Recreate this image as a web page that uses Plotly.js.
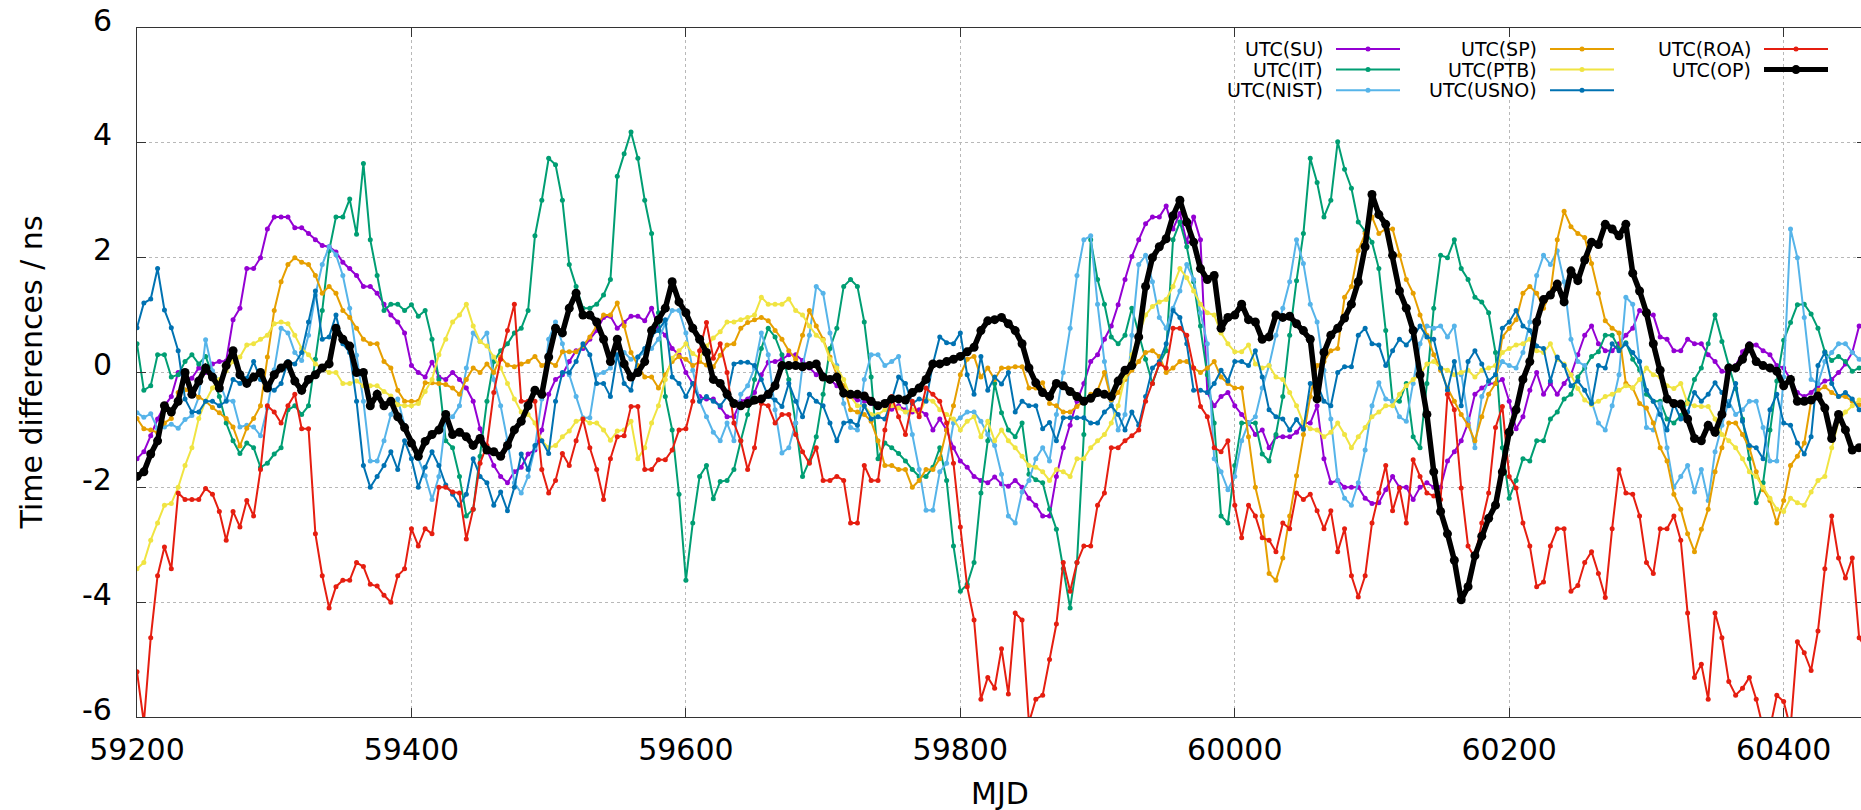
<!DOCTYPE html>
<html><head><meta charset="utf-8">
<script src="https://cdn.plot.ly/plotly-3.0.1.min.js"></script>
<style>html,body{margin:0;padding:0;overflow:hidden;background:#fff}#chart{width:1866px;height:810px}</style>
</head><body><div id="chart"></div>
<script>
const MJD_START = 59200, MJD_STEP = 5;
const X_TICKS = [59200, 59400, 59600, 59800, 60000, 60200, 60400];
const Y_TICKS = [-6, -4, -2, 0, 2, 4, 6];
const Y_TICK_TEXT = ['-6', '-4', '-2', '0', '2', '4', '6'];

const SU = [-1.5,-1.38,-1.1,-0.81,-0.58,-0.42,0.0,-0.1,-0.1,0.08,0.0,0.15,0.19,0.2,0.92,1.12,1.81,1.81,2.0,2.5,2.71,2.71,2.71,2.52,2.52,2.42,2.31,2.21,2.19,2.1,1.92,1.81,1.69,1.5,1.5,1.38,1.19,1.0,0.88,0.69,0.12,0.0,-0.08,
0.18,-0.08,-0.12,0.0,-0.12,-0.27,-0.5,-0.98,-1.35,-1.62,-1.81,-1.92,-1.73,-1.65,-1.42,-1.35,-1.0,-0.38,-0.12,-0.04,0.19,0.38,0.42,0.58,0.73,0.96,0.98,0.77,0.87,0.98,0.98,0.9,1.12,0.77,0.65,0.42,0.31,0.0,-0.19,-0.42,-0.46,-0.46,-0.6,
-0.77,-0.77,-0.5,-0.46,-0.35,-0.04,0.18,0.19,0.23,0.31,0.31,0.21,0.08,-0.04,-0.04,-0.12,-0.23,-0.31,-0.42,-0.48,-0.5,-0.54,-0.58,-0.58,-0.64,-0.58,-0.65,-0.69,-0.65,-0.73,-1.0,-0.81,-1.0,-1.31,-1.54,-1.65,-1.81,-1.88,-1.92,-1.82,-1.94,-1.98,
-1.88,-2.0,-2.19,-2.31,-2.5,-2.5,-1.81,-1.31,-0.92,-0.5,-0.19,0.19,0.31,0.58,0.81,1.18,1.62,2.02,2.31,2.59,2.71,2.71,2.9,2.5,2.77,2.27,2.71,2.31,-0.35,-0.58,-0.42,-0.35,-0.58,-0.73,-0.88,-1.08,-1.0,-1.31,-1.12,-1.12,-1.12,-1.04,
-0.88,-0.88,-0.58,-1.5,-1.92,-1.88,-2.0,-2.0,-2.0,-2.19,-2.28,-2.27,-2.04,-1.81,-2.0,-2.0,-2.21,-2.0,-1.92,-2.0,-2.0,-1.54,-1.38,-1.19,-0.88,-0.38,-0.27,-0.19,-0.19,-0.12,-0.5,-0.98,-0.77,-0.31,0.0,-0.38,-0.19,-0.38,-0.19,-0.04,0.31,0.65,
0.81,0.5,0.38,0.38,0.5,0.65,0.77,1.08,1.0,1.0,0.62,0.58,0.38,0.38,0.58,0.5,0.5,0.31,0.19,0.02,0.0,0.12,0.36,0.5,0.48,0.38,0.31,0.12,0.08,-0.12,-0.35,-0.42,-0.35,-0.23,-0.15,-0.12,0.0,0.15,0.35,0.81];

const IT = [0.5,-0.31,-0.23,0.31,0.31,-0.08,-0.04,0.19,0.31,0.15,0.28,-0.04,-0.42,-0.88,-1.19,-1.41,-1.23,-1.31,-1.65,-1.58,-1.42,-1.31,-0.65,-0.58,-0.73,-0.58,0.23,1.08,2.12,2.71,2.71,3.02,2.41,3.64,2.31,1.69,1.08,1.19,1.19,1.08,1.18,0.98,1.08,
0.58,-0.12,-1.19,-1.31,-1.81,-2.5,-2.38,-1.46,-0.5,0.19,0.38,0.5,0.69,0.77,1.08,2.38,3.0,3.73,3.62,3.0,1.88,1.5,1.12,1.12,1.19,1.35,1.62,3.42,3.81,4.19,3.73,3.0,2.42,1.04,-0.42,-1.0,-2.12,-3.62,-2.62,-1.81,-1.62,-2.2,-1.9,
-1.88,-1.69,-1.19,-0.73,-0.12,0.42,0.77,0.62,0.31,-0.12,-0.88,-1.81,-1.54,-1.12,-0.38,0.42,0.77,1.5,1.62,1.5,0.88,-0.08,-1.5,-1.23,-1.31,-1.41,-1.54,-1.69,-1.81,-1.81,-1.65,-1.31,-1.88,-3.02,-3.81,-3.69,-3.31,-2.1,-1.19,-0.19,-0.7,-1.0,
-1.12,-0.88,-1.77,-1.87,-1.92,-2.38,-2.73,-3.42,-4.1,-3.31,-1.08,2.31,1.62,1.19,0.62,0.5,0.65,1.12,0.65,0.23,-0.19,0.15,0.38,2.31,2.62,2.19,1.58,0.81,-0.04,-0.88,-2.5,-2.62,-1.62,-0.88,-0.88,-0.88,-1.42,-1.54,-1.08,-0.42,0.65,1.6,
2.42,3.73,3.31,2.71,3.0,4.02,3.54,3.21,2.62,2.46,2.27,1.81,0.73,-0.5,-0.5,-0.19,-1.12,-1.31,-0.19,1.12,2.04,2.0,2.31,1.81,1.62,1.31,1.23,1.04,0.35,-1.31,-2.19,-1.88,-1.5,-1.54,-1.19,-1.19,-0.81,-0.69,-0.46,-0.38,-0.08,0.08,
0.28,0.36,0.65,0.65,0.42,0.52,0.23,0.05,-0.38,-0.5,-0.5,-0.81,-0.88,-0.75,-0.5,-0.12,0.08,0.5,1.0,0.54,0.12,-0.28,-0.81,-1.5,-2.27,-1.92,-1.0,-0.15,0.56,0.87,1.18,1.19,1.02,0.77,0.36,0.21,0.28,0.19,0.02,0.08];

const NIST = [-0.7,-0.78,-0.72,-0.98,-0.95,-0.9,-0.97,-0.82,-0.75,-0.43,0.57,0.03,-0.16,-0.48,-0.5,-0.95,-0.92,-0.95,-1.1,-0.62,0.05,0.77,0.69,0.35,0.21,0.65,1.35,1.88,2.19,2.05,1.69,1.12,0.3,-0.5,-1.54,-1.54,-1.19,-0.73,-0.46,-0.92,-1.2,-1.5,-1.8,
-2.21,-1.81,-0.81,-0.77,-0.58,0.08,0.69,0.54,0.69,-0.12,-0.58,-1.19,-1.92,-2.1,-1.81,-1.31,-0.46,0.58,0.88,0.5,-0.04,-0.42,-0.79,-0.79,-0.04,0.0,0.08,0.31,0.35,0.23,0.27,0.35,0.42,0.58,0.85,1.08,1.08,0.69,0.04,-0.5,-0.77,-1.04,-1.19,
-0.88,-1.19,-0.38,-0.23,0.08,0.69,0.31,-0.65,-1.4,-1.31,-0.88,0.12,0.65,1.5,1.38,0.69,0.12,-0.54,-0.96,-1.0,-0.12,0.31,0.31,0.12,0.19,0.28,-0.48,-1.08,-1.69,-2.4,-2.4,-1.73,-1.58,-0.88,-0.79,-0.69,-0.69,-0.85,-1.08,-1.27,-1.77,-2.5,
-2.62,-2.08,-1.88,-1.5,-1.31,-1.54,-0.73,0.0,0.77,1.69,2.31,2.38,1.19,0.19,-0.5,-1.0,-0.73,0.65,1.88,2.04,1.58,0.96,0.77,1.12,1.42,1.88,1.62,1.04,0.5,-1.5,-1.73,-2.04,-1.81,-1.19,-0.88,-0.77,-0.27,0.12,0.65,1.12,1.58,2.31,
1.9,1.19,0.88,0.04,-0.81,-1.88,-2.19,-2.31,-1.92,-1.35,-0.58,-0.18,-0.46,-0.5,-0.77,-0.85,-0.19,0.5,0.81,0.77,0.81,0.62,0.81,-0.04,-0.81,-1.31,-0.42,-0.15,-0.04,0.19,0.12,0.08,0.35,0.88,1.69,2.04,1.88,2.12,1.58,0.58,0.19,0.12,
-0.5,-0.88,-1.0,-0.58,-0.04,1.31,1.19,0.19,-0.96,-1.0,-0.54,-1.31,-2.0,-1.81,-1.62,-2.08,-1.69,-2.23,-1.38,-0.92,-0.5,-0.73,-0.65,-0.5,-0.5,-0.96,-1.54,-1.54,-0.08,2.5,2.0,0.96,-0.12,-0.19,0.19,0.35,0.5,0.5,0.35,0.23,0.19];

const SP = [-0.8,-0.98,-1.0,-1.05,-0.88,-0.8,-0.35,-0.3,-0.35,-0.43,-0.5,-0.61,-0.7,-0.8,-0.95,-1.28,-0.97,-0.8,-0.58,0.27,1.08,1.58,1.88,2.0,1.92,1.88,1.69,1.38,1.5,1.38,1.08,0.96,0.77,0.58,0.5,0.5,0.19,0.08,-0.31,-0.5,-0.5,-0.5,-0.18,
-0.18,-0.19,-0.21,-0.27,-0.38,-0.12,0.08,0.0,0.15,0.0,0.27,0.13,0.1,0.15,0.19,0.28,0.12,0.19,0.12,0.36,0.36,0.36,0.46,0.62,0.81,1.0,1.0,1.21,0.81,0.35,0.12,-0.08,-0.08,-0.27,-0.04,0.19,0.28,0.23,0.12,0.19,0.13,0.1,0.3,
0.48,0.5,0.77,0.87,0.92,0.96,0.9,0.73,0.58,0.38,0.23,0.65,1.08,0.81,0.58,0.27,-0.04,-0.23,-0.65,-0.69,-0.73,-0.85,-1.19,-1.62,-1.62,-1.69,-1.69,-2.0,-1.88,-1.69,-1.69,-1.5,-1.0,-0.58,-0.04,0.23,0.28,-0.08,0.08,-0.12,0.08,0.08,
0.1,0.1,-0.27,-0.27,-0.18,-0.54,-0.58,-0.69,-0.69,-0.59,-0.5,-0.38,-0.31,0.0,-0.48,-0.35,-0.12,0.04,0.19,0.35,0.38,0.28,0.0,0.08,0.19,0.19,0.08,0.0,0.08,0.19,-0.08,-0.19,-0.27,-0.27,-1.12,-2.0,-2.5,-3.5,-3.62,-3.23,-2.5,-1.8,-1.08,
-0.42,0.12,0.19,0.38,0.42,1.31,1.5,2.12,2.42,2.71,2.42,2.5,2.5,2.04,1.62,1.38,1.0,0.65,0.31,0.04,-0.27,-0.5,-0.73,-0.92,-1.19,-0.77,-0.38,-0.19,0.62,0.77,0.92,1.38,1.5,1.38,1.12,1.38,2.31,2.81,2.54,2.42,2.35,1.9,
1.38,0.9,0.77,0.69,-0.19,-0.27,-0.54,-0.62,-0.88,-1.31,-1.54,-2.12,-2.38,-2.81,-3.12,-2.73,-2.38,-1.73,-1.31,-0.88,-0.88,-1.08,-1.31,-1.73,-2.04,-2.23,-2.62,-2.23,-1.62,-1.46,-1.23,-0.5,-0.31,-0.25,-0.35,-0.42,-0.42,-0.5,-0.56,-0.58];

const PTB = [-3.42,-3.31,-2.92,-2.62,-2.31,-2.28,-2.0,-1.62,-1.31,-0.8,-0.5,-0.27,-0.12,0.03,0.19,0.27,0.48,0.5,0.58,0.65,0.85,0.88,0.85,0.65,0.42,0.31,0.15,0.08,0.0,0.0,-0.19,-0.19,-0.15,-0.23,-0.23,-0.23,-0.33,-0.41,-0.56,-0.58,-0.58,-0.54,-0.33,
-0.12,0.31,0.58,0.88,1.0,1.19,0.81,0.54,0.46,0.27,0.08,-0.19,-0.46,-0.69,-0.73,-0.88,-1.19,-1.31,-1.27,-1.12,-1.02,-0.85,-0.81,-0.88,-0.88,-1.0,-1.18,-1.02,-1.0,-0.85,-1.5,-1.31,-0.88,-0.58,-0.12,0.25,0.38,0.5,0.33,0.25,0.46,0.6,0.71,
0.88,0.88,0.92,0.96,1.0,1.31,1.19,1.19,1.19,1.28,1.08,1.0,0.81,0.65,0.56,0.23,0.08,-0.12,-0.42,-0.58,-0.58,-0.73,-0.73,-0.65,-0.58,-0.62,-0.69,-0.65,-0.73,-0.46,-0.5,-0.65,-0.73,-0.81,-1.0,-0.85,-0.77,-1.12,-0.85,-1.19,-1.0,-1.19,
-1.31,-1.46,-1.62,-1.65,-1.73,-1.88,-1.69,-1.73,-1.81,-1.5,-1.5,-1.31,-1.19,-1.08,-0.88,-0.58,-0.08,0.31,0.65,1.0,1.15,1.23,1.27,1.5,1.81,1.65,1.42,1.19,1.04,1.0,0.69,0.5,0.36,0.36,0.48,0.15,0.08,0.12,-0.08,-0.12,-0.35,-0.58,-0.88,
-0.98,-1.0,-1.12,-1.04,-0.88,-1.08,-1.31,-1.12,-0.96,-0.77,-0.69,-0.58,-0.58,-0.38,-0.23,-0.12,-0.04,0.15,0.19,0.08,0.04,-0.04,0.0,0.04,-0.08,0.04,0.08,0.12,0.35,0.42,0.48,0.5,0.58,0.38,0.35,0.5,0.23,0.15,-0.04,-0.28,-0.48,-0.56,
-0.5,-0.42,-0.38,-0.31,-0.23,-0.27,-0.12,0.08,-0.04,-0.08,-0.23,-0.28,-0.19,-0.54,-0.58,-0.59,-0.59,-0.81,-1.08,-1.19,-1.31,-1.5,-1.73,-1.81,-2.0,-2.19,-2.38,-2.42,-2.19,-2.27,-2.31,-2.08,-1.88,-1.81,-1.31,-0.85,-0.69,-0.58,-0.48,-0.42];

const USNO = [0.78,1.21,1.28,1.81,1.09,0.78,0.38,-0.46,-0.69,-0.69,-0.5,-0.5,-0.58,-0.5,-0.12,-0.19,-0.1,0.19,-0.12,-0.27,-0.31,-0.19,0.19,0.15,0.35,0.88,1.42,0.58,0.62,1.0,0.5,0.35,-0.5,-1.62,-2.0,-1.81,-1.62,-1.38,-1.69,-1.19,-1.5,-2.0,-1.65,
-1.38,-1.62,-1.96,-2.12,-2.31,-2.12,-1.5,-1.81,-1.92,-2.31,-2.08,-2.41,-2.0,-1.42,-1.69,-1.27,-1.19,-1.41,-0.5,0.0,0.0,0.19,0.5,0.31,-0.19,-0.19,-0.42,0.31,-0.19,-0.31,0.27,0.42,0.65,0.73,0.92,-0.08,-0.19,-0.42,-0.19,-0.5,-0.42,-0.5,-0.58,
-0.42,0.15,0.18,0.18,0.12,-0.12,-0.42,-0.48,-0.59,-0.19,-0.5,-0.77,-0.38,-0.5,-0.58,-0.88,-1.19,-0.88,-0.85,-0.92,-0.58,-0.81,-0.77,-0.81,-0.48,-0.08,-0.19,-0.54,-0.46,-0.5,0.15,0.62,0.52,0.5,0.69,-0.04,-0.38,0.28,-0.31,-0.08,-0.2,0.0,
-0.69,-0.5,-0.58,-0.58,-0.98,-0.87,-1.19,-0.79,-0.79,-0.79,-0.79,-0.88,-0.88,-0.69,-0.58,-0.73,-1.0,-0.69,-0.92,-0.42,0.08,0.19,0.5,1.08,0.96,0.5,-0.31,-0.31,-0.35,-0.19,0.04,-0.15,0.19,0.19,0.12,0.38,-0.08,-0.65,-0.77,-0.81,-1.0,-0.82,-0.99,
-0.19,-0.19,-0.5,-0.58,0.0,0.1,0.1,0.65,0.77,0.5,0.48,0.12,0.38,0.58,0.48,0.62,0.81,0.62,0.58,0.08,-0.31,0.19,-0.58,0.19,0.38,0.15,-0.15,-0.04,0.77,0.88,1.08,0.81,0.73,0.46,0.42,-0.15,0.27,0.12,-0.23,-0.15,-0.31,-0.54,
0.12,0.08,0.5,0.38,0.5,0.35,0.19,-0.31,-0.5,-0.73,-1.0,-0.54,-0.81,-0.69,-0.35,-0.5,-0.38,-0.18,-0.35,-0.58,-0.19,-0.85,-1.27,-1.31,-1.5,-0.65,-0.38,-0.88,-0.92,-1.23,-1.42,-1.12,0.12,0.35,-0.19,-0.42,-0.35,-0.46,-0.65,-0.58];

const ROA = [-5.21,-6.1,-4.62,-3.54,-3.04,-3.42,-2.1,-2.21,-2.21,-2.21,-2.02,-2.12,-2.42,-2.92,-2.42,-2.69,-2.23,-2.5,-1.69,-0.58,-0.69,-0.88,-0.58,-0.38,-0.98,-0.98,-2.81,-3.54,-4.1,-3.73,-3.62,-3.62,-3.31,-3.38,-3.69,-3.72,-3.88,-4.0,-3.54,-3.42,-2.72,-3.02,-2.72,
-2.81,-2.0,-2.0,-2.08,-2.1,-2.9,-2.38,-1.58,-1.27,-0.35,0.23,0.73,1.19,-0.5,-0.5,-0.5,-1.69,-2.1,-1.88,-1.41,-1.62,-1.19,-0.81,-1.31,-1.69,-2.21,-1.5,-1.12,-1.1,-0.59,-0.59,-1.69,-1.69,-1.52,-1.52,-1.35,-1.0,-0.98,-0.5,0.38,0.87,0.25,0.5,
0.0,-0.88,-1.19,-1.69,-1.31,-0.54,-0.58,-0.88,-0.73,-0.73,-1.08,-1.38,-1.58,-1.31,-1.88,-1.88,-1.81,-1.88,-2.62,-2.62,-1.62,-1.88,-1.88,-1.0,-0.42,-0.77,-1.08,-0.5,-0.77,-0.27,-0.38,-0.5,-0.88,-1.58,-2.69,-3.73,-4.31,-5.69,-5.31,-5.5,-4.81,-5.6,
-4.19,-4.31,-6.1,-5.69,-5.62,-5.0,-4.38,-3.31,-3.81,-3.31,-3.02,-3.02,-2.31,-2.1,-1.31,-1.31,-1.19,-1.1,-1.0,-0.5,-0.19,0.15,0.08,0.77,0.77,0.65,0.08,-0.59,-0.77,-1.31,-1.38,-1.19,-2.31,-2.88,-2.31,-2.5,-2.88,-2.92,-3.12,-2.62,-2.72,-2.1,-2.21,
-2.12,-2.41,-2.72,-2.41,-3.12,-2.72,-3.54,-3.91,-3.54,-2.62,-2.1,-1.62,-2.41,-2.01,-2.62,-1.52,-1.81,-2.1,-2.15,-2.21,-0.38,-0.65,-2.01,-3.02,-3.23,-2.62,-2.1,-0.96,-0.59,-1.81,-2.01,-2.62,-3.02,-3.73,-3.65,-3.02,-2.72,-2.72,-3.81,-3.71,-3.31,-3.12,
-3.5,-3.92,-2.72,-1.69,-2.1,-2.12,-2.5,-3.31,-3.5,-2.72,-2.72,-2.5,-2.92,-4.19,-5.31,-5.08,-5.69,-4.19,-4.62,-5.38,-5.62,-5.5,-5.31,-5.69,-6.19,-6.2,-5.62,-5.73,-6.2,-4.69,-4.88,-5.19,-4.5,-3.42,-2.5,-3.23,-3.58,-3.23,-4.62,-4.81];

const OP = [-1.81,-1.73,-1.42,-1.19,-0.58,-0.69,-0.5,0.0,-0.38,-0.15,0.08,-0.08,-0.27,0.12,0.38,-0.04,-0.19,-0.08,0.0,-0.27,-0.04,0.08,0.15,-0.15,-0.31,-0.12,-0.04,0.08,0.15,0.77,0.58,0.46,0.0,0.0,-0.58,-0.38,-0.58,-0.5,-0.77,-0.96,-1.23,-1.46,-1.2,
-1.08,-1.0,-0.73,-1.08,-1.04,-1.12,-1.27,-1.15,-1.35,-1.38,-1.46,-1.27,-1.0,-0.85,-0.58,-0.31,-0.38,0.27,0.77,0.69,1.12,1.38,1.0,1.0,0.88,0.58,0.19,0.58,0.15,-0.08,0.0,0.19,0.73,0.92,1.12,1.58,1.23,1.04,0.77,0.58,0.35,-0.12,-0.19,
-0.38,-0.54,-0.58,-0.54,-0.48,-0.46,-0.38,-0.23,0.12,0.12,0.12,0.1,0.12,0.15,-0.08,-0.12,-0.08,-0.36,-0.38,-0.38,-0.41,-0.5,-0.58,-0.54,-0.46,-0.46,-0.48,-0.35,-0.27,-0.12,0.15,0.15,0.19,0.23,0.28,0.36,0.44,0.73,0.9,0.92,0.96,0.85,
0.73,0.5,0.08,-0.18,-0.35,-0.42,-0.19,-0.23,-0.33,-0.42,-0.5,-0.45,-0.35,-0.38,-0.42,-0.15,0.04,0.12,0.62,1.5,2.0,2.19,2.33,2.73,3.0,2.62,2.27,1.81,1.62,1.69,0.77,0.96,1.0,1.19,0.92,0.88,0.58,0.62,1.0,0.96,0.98,0.85,0.73,
0.58,-0.46,0.35,0.65,0.77,0.95,1.19,1.58,2.19,3.1,2.75,2.58,2.04,1.42,1.12,0.73,-0.04,-0.73,-1.73,-2.42,-2.81,-3.27,-3.96,-3.73,-3.19,-2.85,-2.54,-2.31,-1.73,-1.04,-0.65,-0.12,0.19,0.88,1.27,1.35,1.54,1.23,1.77,1.6,1.96,2.27,
2.23,2.58,2.5,2.38,2.58,1.73,1.42,1.04,0.5,0.04,-0.46,-0.54,-0.55,-0.81,-1.15,-1.19,-0.92,-1.04,-0.73,0.08,0.08,0.23,0.46,0.19,0.12,0.08,0.02,-0.23,-0.12,-0.5,-0.5,-0.48,-0.41,-0.62,-1.15,-0.73,-1.0,-1.35,-1.31];

const SERIES = [
  {name: 'UTC(SU)',   y: SU,   color: '#9400d3'},
  {name: 'UTC(IT)',   y: IT,   color: '#009e73'},
  {name: 'UTC(NIST)', y: NIST, color: '#56b4e9'},
  {name: 'UTC(SP)',   y: SP,   color: '#e69f00'},
  {name: 'UTC(PTB)',  y: PTB,  color: '#f0e442'},
  {name: 'UTC(USNO)', y: USNO, color: '#0072b2'},
  {name: 'UTC(ROA)',  y: ROA,  color: '#e51e10'},
  {name: 'UTC(OP)',   y: OP,   color: '#000000', bold: true}
];

const W = 1866, H = 810, ML = 137, MR = 0, MT = 28, MB = 93;
const PW = W - ML - MR, PH = H - MT - MB;
const px = p => (p - ML) / PW;
const py = p => (H - MB - p) / PH;
const FONT = 'DejaVu Sans, Verdana, sans-serif';

const traces = SERIES.map(s => ({
  type: 'scatter', mode: 'lines+markers', name: s.name,
  x: s.y.map((_, i) => MJD_START + MJD_STEP * i), y: s.y,
  line: {color: s.color, width: s.bold ? 5.5 : 2},
  marker: {color: s.color, size: s.bold ? 9 : 5, symbol: 'circle'},
  showlegend: false, hoverinfo: 'skip'
}));

// gnuplot-style key: text right-aligned, sample on the right
const COLS = [{tr: 1324, l0: 1336, l1: 1400}, {tr: 1538, l0: 1550, l1: 1614}, {tr: 1752, l0: 1764, l1: 1828}];
const ROWS = [49, 69.6, 90.2];
const shapes = [], annotations = [];
SERIES.forEach((s, i) => {
  const c = COLS[Math.floor(i / 3)], r = ROWS[i % 3];
  annotations.push({xref: 'paper', yref: 'paper', x: px(c.tr), y: py(r), xanchor: 'right', yanchor: 'middle',
    text: s.name, showarrow: false, borderpad: 0, font: {family: FONT, size: 19, color: '#000'}});
  shapes.push({type: 'line', xref: 'paper', yref: 'paper', x0: px(c.l0), x1: px(c.l1), y0: py(r), y1: py(r),
    line: {color: s.color, width: s.bold ? 5 : 2}});
  const rad = s.bold ? 4.5 : 2.5, xm = (c.l0 + c.l1) / 2;
  shapes.push({type: 'circle', xref: 'paper', yref: 'paper', xsizemode: 'pixel', ysizemode: 'pixel',
    xanchor: px(xm), yanchor: py(r), x0: -rad, x1: rad, y0: -rad, y1: rad,
    fillcolor: s.color, line: {color: s.color, width: 0}});
});
// y tick labels (gnuplot draws them slightly above the tick)
Y_TICKS.forEach((v, i) => {
  annotations.push({xref: 'paper', yref: 'y', x: px(114), y: v, xanchor: 'right', yanchor: 'middle', yshift: 8,
    text: Y_TICK_TEXT[i], showarrow: false, font: {family: FONT, size: 30, color: '#000'}});
});
annotations.push({xref: 'paper', yref: 'paper', x: px(1000), y: py(793), xanchor: 'center', yanchor: 'middle',
  text: 'MJD', showarrow: false, font: {family: FONT, size: 30, color: '#000'}});
annotations.push({xref: 'paper', yref: 'paper', x: px(31), y: 0.5, xanchor: 'center', yanchor: 'middle', textangle: -90,
  text: 'Time differences / ns', showarrow: false, font: {family: FONT, size: 30, color: '#000'}});

const axisCommon = {
  ticks: 'inside', ticklen: 9, tickwidth: 1, tickcolor: '#333', mirror: 'allticks',
  showline: true, linecolor: '#333', linewidth: 1,
  showgrid: true, gridcolor: '#b8b8b8', griddash: 'dot', gridwidth: 1, zeroline: false,
  tickfont: {family: FONT, size: 30, color: '#000'}
};

const layout = {
  width: W, height: H, margin: {l: ML, r: MR, t: MT, b: MB, pad: 0},
  paper_bgcolor: '#fff', plot_bgcolor: '#fff', showlegend: false,
  xaxis: Object.assign({}, axisCommon, {range: [59200, 60460], tickmode: 'array', tickvals: X_TICKS,
    ticktext: X_TICKS.map(String), ticklabelstandoff: 6}),
  yaxis: Object.assign({}, axisCommon, {range: [-6, 6], tickmode: 'array', tickvals: Y_TICKS,
    ticktext: Y_TICK_TEXT, showticklabels: false}),
  shapes: shapes, annotations: annotations
};

Plotly.newPlot('chart', traces, layout, {staticPlot: true, displayModeBar: false});
</script></body></html>
